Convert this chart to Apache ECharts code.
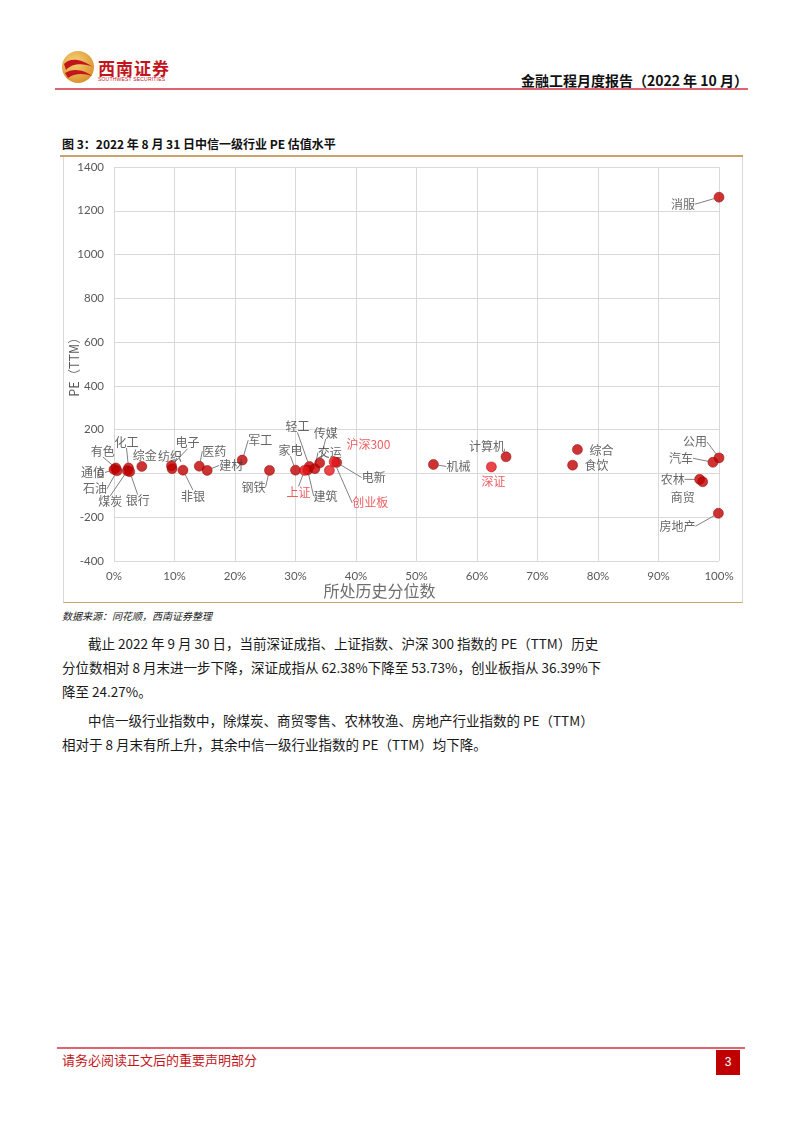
<!DOCTYPE html>
<html><head><meta charset="utf-8">
<script src="https://cdn.jsdelivr.net/npm/echarts@6/dist/echarts.min.js"></script>
<style>
html,body{margin:0;padding:0;background:#fff;}
body{width:802px;height:1133px;position:relative;overflow:hidden;font-family:"Noto Sans CJK SC","Liberation Sans",sans-serif;}
.abs{position:absolute;white-space:nowrap;}
#chart{position:absolute;left:63px;top:157px;width:680px;height:446px;border-left:1px solid #D9D9D9;border-right:1px solid #D9D9D9;border-bottom:1px solid #C9A46A;box-sizing:border-box;}
.p{position:absolute;left:62px;font-size:13.5px;color:#1a1a1a;white-space:nowrap;line-height:18px;}
</style></head>
<body>
<svg class="abs" style="left:60px;top:47px" width="40" height="40" viewBox="0 0 40 40">
  <defs><radialGradient id="g" cx="40%" cy="35%" r="70%"><stop offset="0" stop-color="#F7D27A"/><stop offset="1" stop-color="#D9902A"/></radialGradient></defs>
  <circle cx="18" cy="20" r="16" fill="url(#g)"/>
  <path d="M4 17 C10 10, 22 12, 33 20 C24 16, 12 16, 6 23 Z" fill="#C3161C"/>
  <path d="M5 26 C14 20, 26 24, 32 29 C24 26, 14 26, 8 31 Z" fill="#C3161C"/>
</svg>
<div class="abs" style="left:98px;top:55px;font-size:17px;font-weight:bold;color:#C3161C;letter-spacing:1px;">西南证券</div>
<div class="abs" style="left:98px;top:76px;font-size:5px;color:#C3161C;font-family:'Liberation Sans';letter-spacing:0.2px;">SOUTHWEST SECURITIES</div>
<div class="abs" style="right:54px;top:70px;font-size:14px;font-weight:bold;color:#111;">金融工程月度报告（2022 年 10 月）</div>
<div class="abs" style="left:55px;top:88px;width:693px;height:2px;background:#E06470;"></div>

<div class="abs" style="left:62px;top:135px;font-size:12px;font-weight:bold;color:#111;">图 3：2022 年 8 月 31 日中信一级行业 PE 估值水平</div>
<div class="abs" style="left:60px;top:155px;width:683px;height:2px;background:#C9A46A;"></div>
<div id="chart"></div>
<div class="abs" style="left:62px;top:608px;font-size:10px;font-style:italic;color:#222;">数据来源：同花顺，西南证券整理</div>

<div class="p" style="top:634px;left:88px;">截止 2022 年 9 月 30 日，当前深证成指、上证指数、沪深 300 指数的 PE（TTM）历史</div>
<div class="p" style="top:658px;">分位数相对 8 月末进一步下降，深证成指从 62.38%下降至 53.73%，创业板指从 36.39%下</div>
<div class="p" style="top:682px;">降至 24.27%。</div>
<div class="p" style="top:711px;left:88px;">中信一级行业指数中，除煤炭、商贸零售、农林牧渔、房地产行业指数的 PE（TTM）</div>
<div class="p" style="top:735px;">相对于 8 月末有所上升，其余中信一级行业指数的 PE（TTM）均下降。</div>

<div class="abs" style="left:57px;top:1047px;width:688px;height:2px;background:#E06470;"></div>
<div class="abs" style="left:62px;top:1050px;font-size:13px;color:#C3161C;">请务必阅读正文后的重要声明部分</div>
<div class="abs" style="left:716px;top:1050px;width:24px;height:25px;background:#C00000;color:#fff;font-size:12px;text-align:center;line-height:25px;font-family:'Liberation Sans';">3</div>

<script>
// ---- data ----
const industryNames = ['有色','通信','石油','化工','煤炭','银行','综金','纺织','电子','非银','医药','建材','军工','钢铁','家电','建筑','轻工','交运','传媒','电新','机械','计算机','综合','食饮','消服','公用','汽车','农林','商贸','房地产'];
const industryPct   = [0.3, 0.0, 0.5, 2.4, 2.2, 2.6, 4.6, 9.6, 9.5, 11.4, 14.1, 15.4, 21.2, 25.7, 30.0, 32.0, 32.3, 33.2, 34.0, 36.8, 52.8, 64.8, 76.6, 75.8, 100.0, 100.0, 99.0, 96.8, 97.3, 99.9];
const industryPE    = [25, 18, 12, 25, 12, 8, 32, 22, 35, 15, 33, 14, 61, 14, 15, 16, 32, 22, 48, 50, 41, 76, 109, 38, 1262, 71, 51, -27, -38, -182];
const indexNames = ['上证','沪深300','创业板','深证'];
const indexPct   = [31.5, 35.6, 36.39, 62.38];
const indexPE    = [14, 14, 53, 30];
const yTicks = {min: -400, max: 1400, interval: 200};
const xTicks = {min: 0, max: 100, interval: 10};

// label placement (pixel offsets from point) - styling only
const labelOffsets = {
  '有色':[-13,-17],'通信':[-21,3],'石油':[-22,18],'化工':[-2,-26],'煤炭':[-17,31],'银行':[8,29],
  '综金':[3,-11],'纺织':[-2,-12],'电子':[16,-23],'非银':[10,26],'医药':[15,-15],'建材':[24,-5],
  '军工':[18,-20],'钢铁':[-16,17],'家电':[-5,-20],'上证':[-6,22],'建筑':[18,26],'轻工':[-12,-40],
  '交运':[15,-16],'传媒':[6,-30],'沪深300':[39,-26],'电新':[37,15],'创业板':[36,41],'机械':[25,2],
  '计算机':[-19,-10],'深证':[2,15],'综合':[24,1],'食饮':[24,0],'消服':[-36,7],'公用':[-24,-16],
  '汽车':[-32,-4],'农林':[-27,0],'商贸':[-20,16],'房地产':[-41,13]
};
const noLine = new Set(['综金','纺织','计算机','深证','综合','食饮','商贸','沪深300']);

function build(names, xs, ys){
  return names.map((n,i)=>({name:n, value:[xs[i], ys[i]], labelLine:{show:!noLine.has(n)}}));
}

const chart = echarts.init(document.getElementById('chart'));
const labelFont = {fontSize:12, fontFamily:'"Noto Sans CJK SC", sans-serif'};
const layoutFn = p => { const o = labelOffsets[p.text] || [0,0]; return {dx:o[0], dy:o[1], hideOverlap:false}; };
chart.setOption({
  animation:false,
  grid:{left:50, right:23, top:10, bottom:41, outerBoundsMode:'none', containLabel:false},
  xAxis:{type:'value', min:xTicks.min, max:xTicks.max, interval:xTicks.interval,
    axisLine:{show:false}, axisTick:{show:false},
    axisLabel:{formatter:'{value}%', color:'#595959', fontSize:11.5, fontFamily:'Lato, "Liberation Sans"', margin:9},
    splitLine:{show:true, lineStyle:{color:'#D9D9D9', width:1}},
    name:'所处历史分位数', nameLocation:'middle', nameGap:22, nameMoveOverlap:false,
    nameTextStyle:{color:'#6E6E6E', fontSize:16, padding:[0,74,0,0], fontFamily:'"Noto Sans CJK SC"'}},
  yAxis:{type:'value', min:yTicks.min, max:yTicks.max, interval:yTicks.interval,
    axisLine:{show:false}, axisTick:{show:false},
    axisLabel:{formatter: v => String(v), color:'#595959', fontSize:11.5, fontFamily:'Lato, "Liberation Sans"', margin:10},
    splitLine:{show:true, lineStyle:{color:'#D9D9D9', width:1}},
    name:'PE（TTM）', nameLocation:'middle', nameGap:33, nameMoveOverlap:false,
    nameTextStyle:{color:'#595959', fontSize:12.5, fontFamily:'"Noto Sans CJK SC"'}},
  series:[
    {type:'scatter', name:'行业', symbolSize:10, data:build(industryNames, industryPct, industryPE),
      itemStyle:{color:'#C00000', borderColor:'#8B0000', borderWidth:0.6},
      label:{show:true, position:'inside', formatter:'{b}', color:'#404040', ...labelFont},
      labelLine:{show:true, lineStyle:{color:'#808080', width:1}},
      labelLayout:layoutFn, z:2},
    {type:'scatter', name:'指数', symbolSize:10, data:build(indexNames, indexPct, indexPE),
      itemStyle:{color:'#E5161C', borderColor:'#B00000', borderWidth:0.6},
      label:{show:true, position:'inside', formatter:'{b}', color:'#E8343A', ...labelFont},
      labelLine:{show:true, lineStyle:{color:'#808080', width:1}},
      labelLayout:layoutFn, z:3}
  ]
});
</script>
</body></html>
